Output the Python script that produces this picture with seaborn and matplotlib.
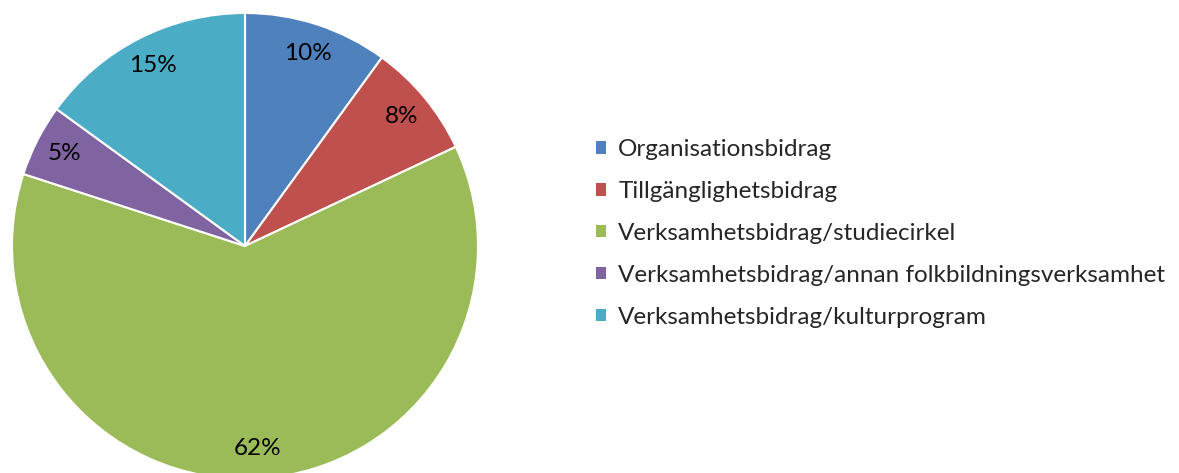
import matplotlib
matplotlib.use("Agg")
import matplotlib.pyplot as plt
import seaborn as sns
from matplotlib.patches import Patch

categories = [
    "Organisationsbidrag",
    "Tillgänglighetsbidrag",
    "Verksamhetsbidrag/studiecirkel",
    "Verksamhetsbidrag/annan folkbildningsverksamhet",
    "Verksamhetsbidrag/kulturprogram",
]
values = [10, 8, 62, 5, 15]
colors = ["#4F81BD", "#C0504D", "#9BBB59", "#8064A2", "#4BACC6"]

sns.set_theme(style="white")
plt.rcParams["font.family"] = ["Lato", "DejaVu Sans"]

W, H = 1179, 473
fig = plt.figure(figsize=(W / 100, H / 100), dpi=100)
cx, cy, r = 245, 246, 233
ax = fig.add_axes([(cx - r) / W, (H - cy - r) / H, 2 * r / W, 2 * r / H])

wedges, texts, autotexts = ax.pie(
    values,
    colors=colors,
    startangle=90,
    counterclock=False,
    autopct="%d%%",
    pctdistance=0.87,
    wedgeprops=dict(edgecolor="white", linewidth=1.5),
    textprops=dict(fontsize=17.5, color="black"),
)
ax.set_xlim(-1, 1)
ax.set_ylim(-1, 1)
ax.set_aspect("auto")
ax.axis("off")

handles = [Patch(facecolor=c, edgecolor="none") for c in colors]
fig.legend(
    handles,
    categories,
    loc="upper left",
    bbox_to_anchor=(596 / W, 1 - 139 / H),
    frameon=False,
    fontsize=17.5,
    handlelength=0.42,
    handleheight=0.42,
    handletextpad=0.5,
    labelspacing=0.86,
    borderaxespad=0,
    borderpad=0,
)

fig.savefig("out.png", dpi=100)
